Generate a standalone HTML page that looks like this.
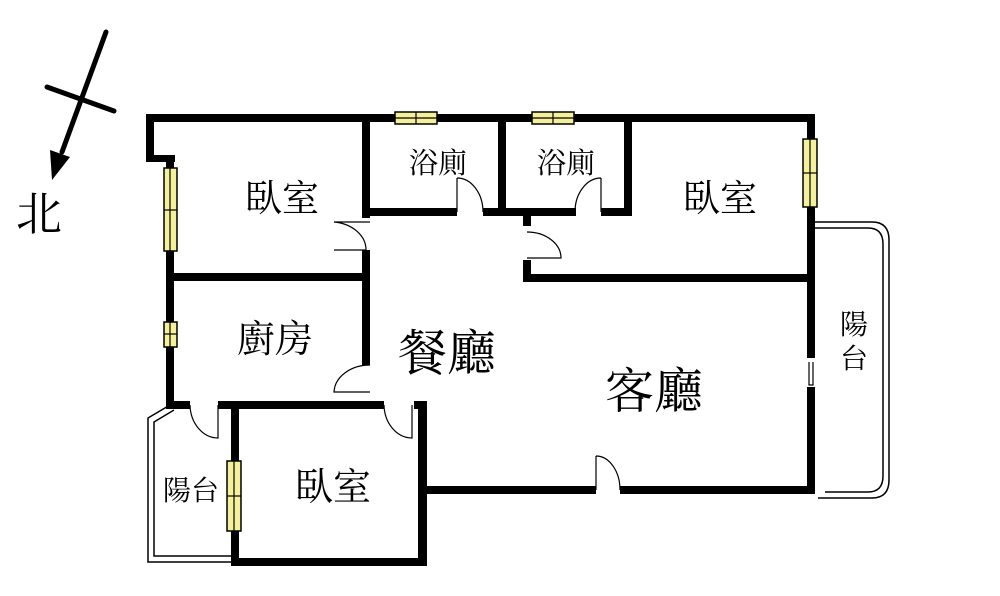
<!DOCTYPE html>
<html><head><meta charset="utf-8"><style>
html,body{margin:0;padding:0;background:#fff;}
svg{display:block;}
text{font-family:"Liberation Serif","Noto Serif CJK SC","Noto Sans CJK TC",serif;fill:#000;}
</style></head><body>
<svg width="1000" height="596" viewBox="0 0 1000 596" xmlns="http://www.w3.org/2000/svg">
<line x1="106" y1="32" x2="62" y2="152" stroke="#000" stroke-width="5" stroke-linecap="round"/>
<polygon points="52,180 50,150 70,157" fill="#000"/>
<line x1="47" y1="87" x2="114" y2="111" stroke="#000" stroke-width="5" stroke-linecap="round"/>
<text x="16" y="230" font-size="46">北</text>

<path d="M170,405 L148,418 L148,562 L233,562" fill="none" stroke="#000" stroke-width="1.5"/>
<path d="M174,410 L154,422 L154,556 L233,556" fill="none" stroke="#000" stroke-width="1.5"/>
<path d="M815,222 L872,222 Q889,222 889,240 L889,480 Q889,498 872,498 L818,498" fill="none" stroke="#000" stroke-width="1.5"/>
<path d="M815,228 L868,228 Q883,228 883,244 L883,476 Q883,492 868,492 L825,492" fill="none" stroke="#000" stroke-width="1.5"/>

<g fill="#000">
<rect x="146" y="114" width="669" height="8"/>
<rect x="146" y="114" width="8" height="48"/>
<rect x="146" y="155" width="29" height="7"/>
<rect x="166" y="155" width="8" height="254"/>
<rect x="807" y="114" width="8" height="244"/>
<rect x="807" y="387" width="8" height="107"/>
<rect x="422" y="486" width="174" height="8"/>
<rect x="620" y="486" width="195" height="8"/>
<rect x="362" y="114" width="8" height="104"/>
<rect x="362" y="208" width="95" height="8"/>
<rect x="483" y="208" width="93" height="8"/>
<rect x="601" y="208" width="31" height="8"/>
<rect x="498" y="114" width="8" height="102"/>
<rect x="624" y="114" width="8" height="102"/>
<rect x="523" y="208" width="8" height="18"/>
<rect x="523" y="260" width="8" height="22"/>
<rect x="523" y="274" width="292" height="8"/>
<rect x="362" y="250" width="8" height="115"/>
<rect x="166" y="273" width="204" height="8"/>
<rect x="166" y="401" width="24" height="8"/>
<rect x="218" y="401" width="166" height="8"/>
<rect x="414" y="401" width="13" height="8"/>
<rect x="231" y="401" width="8" height="165"/>
<rect x="418" y="401" width="9" height="165"/>
<rect x="231" y="558" width="196" height="8"/>
</g>

<g fill="#f4f19a" stroke="#000" stroke-width="1.5">
<rect x="395" y="112" width="42" height="12"/>
<rect x="532" y="112" width="42" height="12"/>
<rect x="164" y="168" width="13" height="83"/>
<rect x="164" y="322" width="13" height="25"/>
<rect x="803" y="139" width="14" height="68"/>
<rect x="227" y="461" width="14" height="70"/>
</g>
<g stroke="#000" stroke-width="1.2">
<line x1="416" y1="112" x2="416" y2="124"/><line x1="395" y1="118" x2="437" y2="118"/>
<line x1="553" y1="112" x2="553" y2="124"/><line x1="532" y1="118" x2="574" y2="118"/>
<line x1="164" y1="210" x2="177" y2="210"/><line x1="170" y1="168" x2="170" y2="251"/>
<line x1="164" y1="334" x2="177" y2="334"/><line x1="170" y1="322" x2="170" y2="347"/>
<line x1="803" y1="173" x2="817" y2="173"/><line x1="810" y1="139" x2="810" y2="207"/>
<line x1="227" y1="496" x2="241" y2="496"/><line x1="234" y1="461" x2="234" y2="531"/>
</g>

<g fill="none" stroke="#000" stroke-width="1.2">
<path d="M457,178 L457,212 M457,178 A26,34 0 0 1 483,212"/>
<path d="M601,178 L601,212 M601,178 A26,34 0 0 0 575,212"/>
<path d="M370,222 L334,222 A36,28 0 0 1 366,250 M334,250 L366,250"/>
<path d="M527,232 A34,26 0 0 1 561,258 L527,258"/>
<path d="M370,365 A36,28 0 0 0 334,392 L370,392"/>
<path d="M190,405 A28,34 0 0 0 218,438 L218,405"/>
<path d="M384,405 A28,34 0 0 0 412,438 L412,405"/>
<path d="M596,456 L596,490 M596,456 A24,34 0 0 1 620,490"/>
<path d="M809,362 L809,385 L813,385 L813,362"/>
</g>

<text x="245" y="211" font-size="37">臥室</text>
<text x="409" y="173" font-size="29">浴廁</text>
<text x="537" y="173" font-size="29">浴廁</text>
<text x="683" y="211" font-size="37">臥室</text>
<text x="237" y="352" font-size="38">廚房</text>
<text x="398" y="370" font-size="49">餐廳</text>
<text x="605" y="408" font-size="49">客廳</text>
<text x="840" y="334" font-size="28">陽</text>
<text x="840" y="368" font-size="28">台</text>
<text x="163" y="500" font-size="28">陽台</text>
<text x="295" y="500" font-size="38">臥室</text>
</svg>
</body></html>
